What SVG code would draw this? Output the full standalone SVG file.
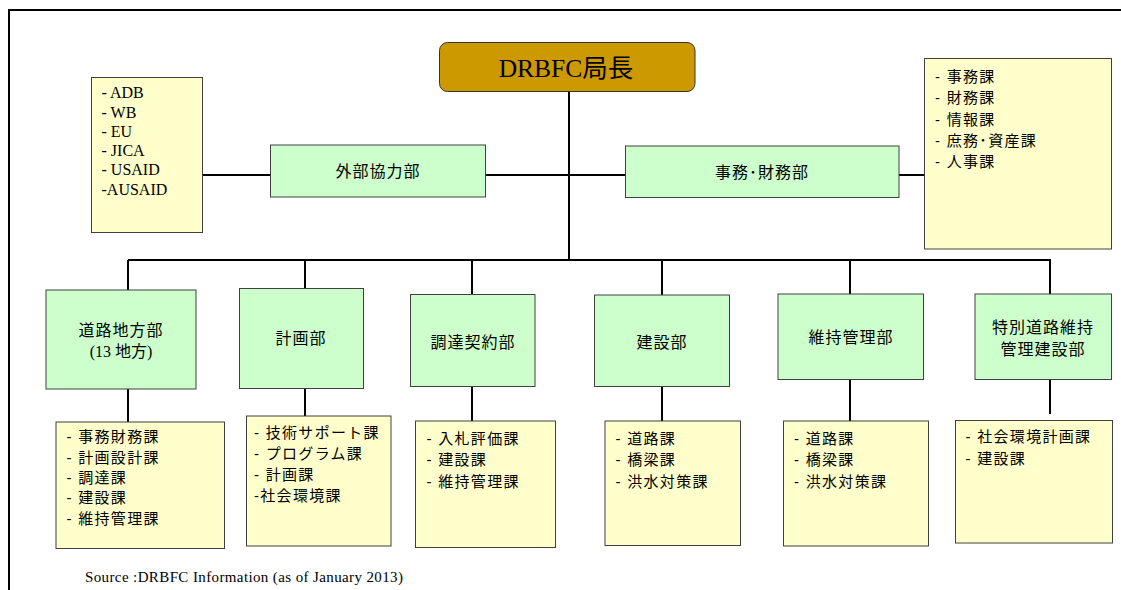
<svg xmlns="http://www.w3.org/2000/svg" width="1121" height="590" viewBox="0 0 1121 590">
<style>
.g{fill:#CCFFCC;stroke:#404040;stroke-width:1}
.y{fill:#FFFFCC;stroke:#404040;stroke-width:1}
.c{stroke:#000;stroke-width:2;fill:none}
.jp{font-family:"Liberation Sans","Noto Sans CJK JP",sans-serif;font-size:16px;letter-spacing:1px;fill:#000}
.jt{font-family:"Liberation Sans","Noto Sans CJK JP",sans-serif;font-size:15px;letter-spacing:1.3px;fill:#000}
.en{font-family:"Liberation Serif","Noto Sans CJK JP",serif;font-size:16px;fill:#000}
.hd{font-family:"Liberation Serif","Noto Sans CJK JP",serif;font-size:25.5px;fill:#000}
.sr{font-family:"Liberation Serif","Noto Sans CJK JP",serif;font-size:16px;fill:#000}
.src{font-family:"Liberation Serif",serif;font-size:15px;fill:#000}
.m{text-anchor:middle}
</style>
<rect x="0" y="0" width="1121" height="590" fill="#fff"/>
<path d="M9,590 V10 H1121" stroke="#000" stroke-width="2" fill="none"/>
<g id="connectors">
<path class="c" d="M569,92 V260"/>
<path class="c" d="M203,175 H270 M486,175 H625 M899,175 H924"/>
<path class="c" d="M128,260 H1051"/>
<path class="c" d="M128,260 V290 M305,260 V288 M472,260 V294 M662,260 V295 M850,260 V294 M1050,260 V294"/>
<path class="c" d="M128,389 V422 M305,388 V416 M472,387 V421 M662,387 V421 M850,379 V421 M1050,379 V414"/>
</g>
<g id="head">
<rect x="439.5" y="42.5" width="255.5" height="49" rx="8" fill="#CC9900" stroke="#333" stroke-width="1"/>
<text class="hd m" x="566" y="76.5">DRBFC局長</text>
</g>
<g id="donors">
<rect class="y" x="91.5" y="77.5" width="111" height="155"/>
<text class="en" x="101.5"><tspan x="101.5" y="98">- ADB</tspan><tspan x="101.5" y="117.5">- WB</tspan><tspan x="101.5" y="136.5">- EU</tspan><tspan x="101.5" y="156">- JICA</tspan><tspan x="101.5" y="175">- USAID</tspan><tspan x="101.5" y="194.5">-AUSAID</tspan></text>
</g>
<g id="ext">
<rect class="g" x="270.5" y="145" width="215" height="52"/>
<text class="jp m" x="378" y="177">外部協力部</text>
</g>
<g id="admin">
<rect class="g" x="625.5" y="146" width="273.5" height="51.5"/>
<text class="jp m" x="762" y="177.5">事務･財務部</text>
</g>
<g id="admin-list">
<rect class="y" x="924.5" y="58.5" width="187" height="190.5"/>
<text class="jt" x="935"><tspan x="935" y="82">- 事務課</tspan><tspan x="935" y="103">- 財務課</tspan><tspan x="935" y="124.5">- 情報課</tspan><tspan x="935" y="146">- 庶務･資産課</tspan><tspan x="935" y="167">- 人事課</tspan></text>
</g>
<g id="d1">
<rect class="g" x="46" y="290" width="150" height="99"/>
<text class="jp m" x="121" y="336">道路地方部</text>
<text class="sr m" x="121" y="357">(13 地方)</text>
</g>
<g id="d2">
<rect class="g" x="239.5" y="288.5" width="124" height="100"/>
<text class="jp m" x="301" y="344">計画部</text>
</g>
<g id="d3">
<rect class="g" x="410.5" y="294.5" width="124.5" height="92"/>
<text class="jp m" x="473" y="348">調達契約部</text>
</g>
<g id="d4">
<rect class="g" x="594.5" y="295" width="135" height="91.5"/>
<text class="jp m" x="662" y="348">建設部</text>
</g>
<g id="d5">
<rect class="g" x="778" y="294" width="145.5" height="85.5"/>
<text class="jp m" x="851" y="343">維持管理部</text>
</g>
<g id="d6">
<rect class="g" x="975" y="294" width="136.5" height="85.5"/>
<text class="jp m" x="1043" y="333">特別道路維持</text>
<text class="jp m" x="1043" y="355">管理建設部</text>
</g>
<g id="l1">
<rect class="y" x="56" y="422" width="168.5" height="126.5"/>
<text class="jt" x="66.5"><tspan x="66.5" y="442">- 事務財務課</tspan><tspan x="66.5" y="462.5">- 計画設計課</tspan><tspan x="66.5" y="483">- 調達課</tspan><tspan x="66.5" y="503">- 建設課</tspan><tspan x="66.5" y="523.5">- 維持管理課</tspan></text>
</g>
<g id="l2">
<rect class="y" x="246.5" y="416" width="144.5" height="130"/>
<text class="jt" x="254"><tspan x="254" y="437.5">- 技術サポート課</tspan><tspan x="254" y="459">- プログラム課</tspan><tspan x="254" y="480">- 計画課</tspan><tspan x="254" y="500.5">-社会環境課</tspan></text>
</g>
<g id="l3">
<rect class="y" x="415.5" y="421" width="140" height="126.5"/>
<text class="jt" x="426.5"><tspan x="426.5" y="443.5">-  入札評価課</tspan><tspan x="426.5" y="465">- 建設課</tspan><tspan x="426.5" y="486.5">- 維持管理課</tspan></text>
</g>
<g id="l4">
<rect class="y" x="605" y="421" width="135.5" height="124.5"/>
<text class="jt" x="615.5"><tspan x="615.5" y="443.5">- 道路課</tspan><tspan x="615.5" y="465">- 橋梁課</tspan><tspan x="615.5" y="486.5">- 洪水対策課</tspan></text>
</g>
<g id="l5">
<rect class="y" x="783.5" y="421" width="145" height="125"/>
<text class="jt" x="794"><tspan x="794" y="443.5">- 道路課</tspan><tspan x="794" y="465">- 橋梁課</tspan><tspan x="794" y="486.5">- 洪水対策課</tspan></text>
</g>
<g id="l6">
<rect class="y" x="955.5" y="420.5" width="157" height="122.5"/>
<text class="jt" x="965.5"><tspan x="965.5" y="442">- 社会環境計画課</tspan><tspan x="965.5" y="463.5">- 建設課</tspan></text>
</g>
<text class="src" x="85" y="582" textLength="318" lengthAdjust="spacing">Source :DRBFC Information (as of January  2013)</text>
</svg>
